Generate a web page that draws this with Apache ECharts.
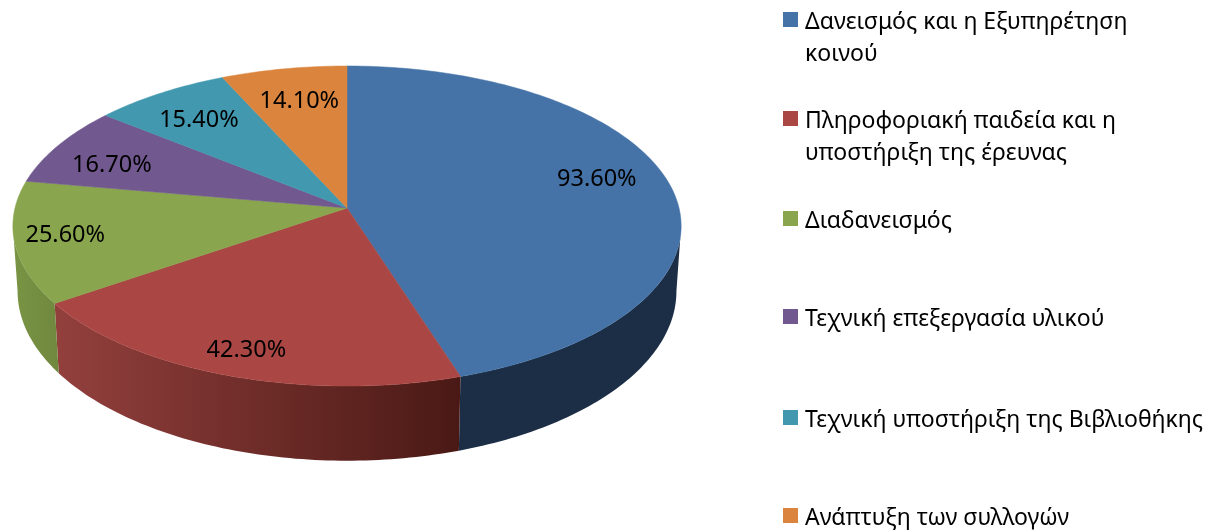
<!DOCTYPE html>
<html>
<head>
<meta charset="utf-8">
<style>
  html, body { margin: 0; padding: 0; background: #fff; }
  #chart { width: 1209px; height: 530px; }
</style>
<script src="https://cdn.jsdelivr.net/npm/echarts@6/dist/echarts.min.js"></script>
</head>
<body>
<div id="chart"></div>
<script>
// data
var categories = [
  'Δανεισμός και η Εξυπηρέτηση\nκοινού',
  'Πληροφοριακή παιδεία και η\nυποστήριξη της έρευνας',
  'Διαδανεισμός',
  'Τεχνική επεξεργασία υλικού',
  'Τεχνική υποστήριξη της Βιβλιοθήκης',
  'Ανάπτυξη των συλλογών'
];
var values = [93.6, 42.3, 25.6, 16.7, 15.4, 14.1];

// colours
var topColors = ['#4572A7', '#AA4643', '#89A54E', '#71588F', '#4198AF', '#DB843D'];
var wallLeft = ['#1b2e46', '#93403d', '#7a9445', '#4c3a60', '#2b6675', '#935828'];
var wallRight = ['#1b2e46', '#4a1915', '#6f883e', '#4c3a60', '#2b6675', '#935828'];

// label nudges from the radial spot on each slice
var labelNudge = [[7, -11], [-13, 20], [-34, 2], [-16, 5], [-5, 0], [1, 0]];
var legendRowY = [20, 119, 219, 317, 418, 516];

// tilted disc: a circle seen in perspective
var apexX = 347, apexY = 208, radiusX = 332, radiusY = 158, tilt = 0.1125;
var wallDepth = 64, wallScaleX = 0.986, wallScaleY = 1.06;
var fontFamily = '"Noto Sans", sans-serif';

var total = values.reduce(function (a, b) { return a + b; }, 0);
var starts = [];
values.reduce(function (sum, v, i) { starts[i] = sum; return sum + v; }, 0);

// the wall only shows between the disc's left and right extremes
var wallFrom = Math.acos(-tilt);
var wallTo = 2 * Math.PI - wallFrom;

function toAngle(v) { return v / total * 2 * Math.PI; }

function project(r, angle) {
  var u = r * Math.sin(angle);
  var v = -r * Math.cos(angle);
  var w = 1 - tilt * v;
  return [apexX + radiusX * u / w, apexY + radiusY * v / w];
}

function projectBottom(angle) {
  var p = project(1, angle);
  return [apexX + (p[0] - apexX) * wallScaleX, apexY + wallDepth + (p[1] - apexY) * wallScaleY];
}

function arc(a0, a1, fn) {
  var n = Math.max(2, Math.ceil((a1 - a0) / (Math.PI / 180)));
  var pts = [];
  for (var i = 0; i <= n; i++) pts.push(fn(a0 + (a1 - a0) * i / n));
  return pts;
}

function renderSlice(params, api) {
  var i = params.dataIndex;
  var value = api.value(0);
  var a0 = toAngle(starts[i]);
  var a1 = a0 + toAngle(value);
  var children = [];

  var w0 = Math.max(a0, wallFrom);
  var w1 = Math.min(a1, wallTo);
  if (w1 > w0) {
    var upper = arc(w0, w1, function (a) { return project(1, a); });
    var lower = arc(w0, w1, function (a) { return projectBottom(a); });
    var xs = upper.concat(lower).map(function (p) { return p[0]; });
    children.push({
      type: 'polygon',
      z2: 1,
      shape: { points: upper.concat(lower.slice().reverse()) },
      style: {
        fill: new echarts.graphic.LinearGradient(
          Math.min.apply(null, xs), 0, Math.max.apply(null, xs), 0,
          [{ offset: 0, color: wallLeft[i] }, { offset: 1, color: wallRight[i] }],
          true
        )
      }
    });
  }

  var topArc = arc(a0, a1, function (a) { return project(1, a); });
  children.push({
    type: 'polygon',
    z2: 2,
    shape: { points: [[apexX, apexY]].concat(topArc) },
    style: { fill: topColors[i], stroke: topColors[i], lineWidth: 0.5 }
  });

  var spot = project(0.75, (a0 + a1) / 2);
  children.push({
    type: 'text',
    z2: 3,
    style: {
      x: spot[0] + labelNudge[i][0],
      y: spot[1] + labelNudge[i][1],
      text: value.toFixed(2) + '%',
      fill: '#000',
      font: '23.5px ' + fontFamily,
      align: 'center',
      verticalAlign: 'middle'
    }
  });
  return { type: 'group', children: children };
}

// legend keeps its square beside the first line, so it is laid out by hand
var legendItems = [];
categories.forEach(function (name, i) {
  legendItems.push({
    type: 'rect',
    shape: { x: 783, y: legendRowY[i] - 8, width: 15, height: 15 },
    style: { fill: topColors[i] }
  });
  legendItems.push({
    type: 'text',
    style: {
      x: 805,
      y: legendRowY[i] - 14,
      text: name,
      fill: '#000',
      font: '23px ' + fontFamily,
      lineHeight: 32,
      align: 'left',
      verticalAlign: 'top'
    }
  });
});

var myChart = echarts.init(document.getElementById('chart'));
var option = {
  animation: false,
  backgroundColor: '#fff',
  graphic: legendItems,
  series: [{
    type: 'custom',
    coordinateSystem: 'none',
    renderItem: renderSlice,
    data: values.map(function (v, i) { return { name: categories[i], value: [v] }; })
  }]
};
myChart.setOption(option);
</script>
</body>
</html>
